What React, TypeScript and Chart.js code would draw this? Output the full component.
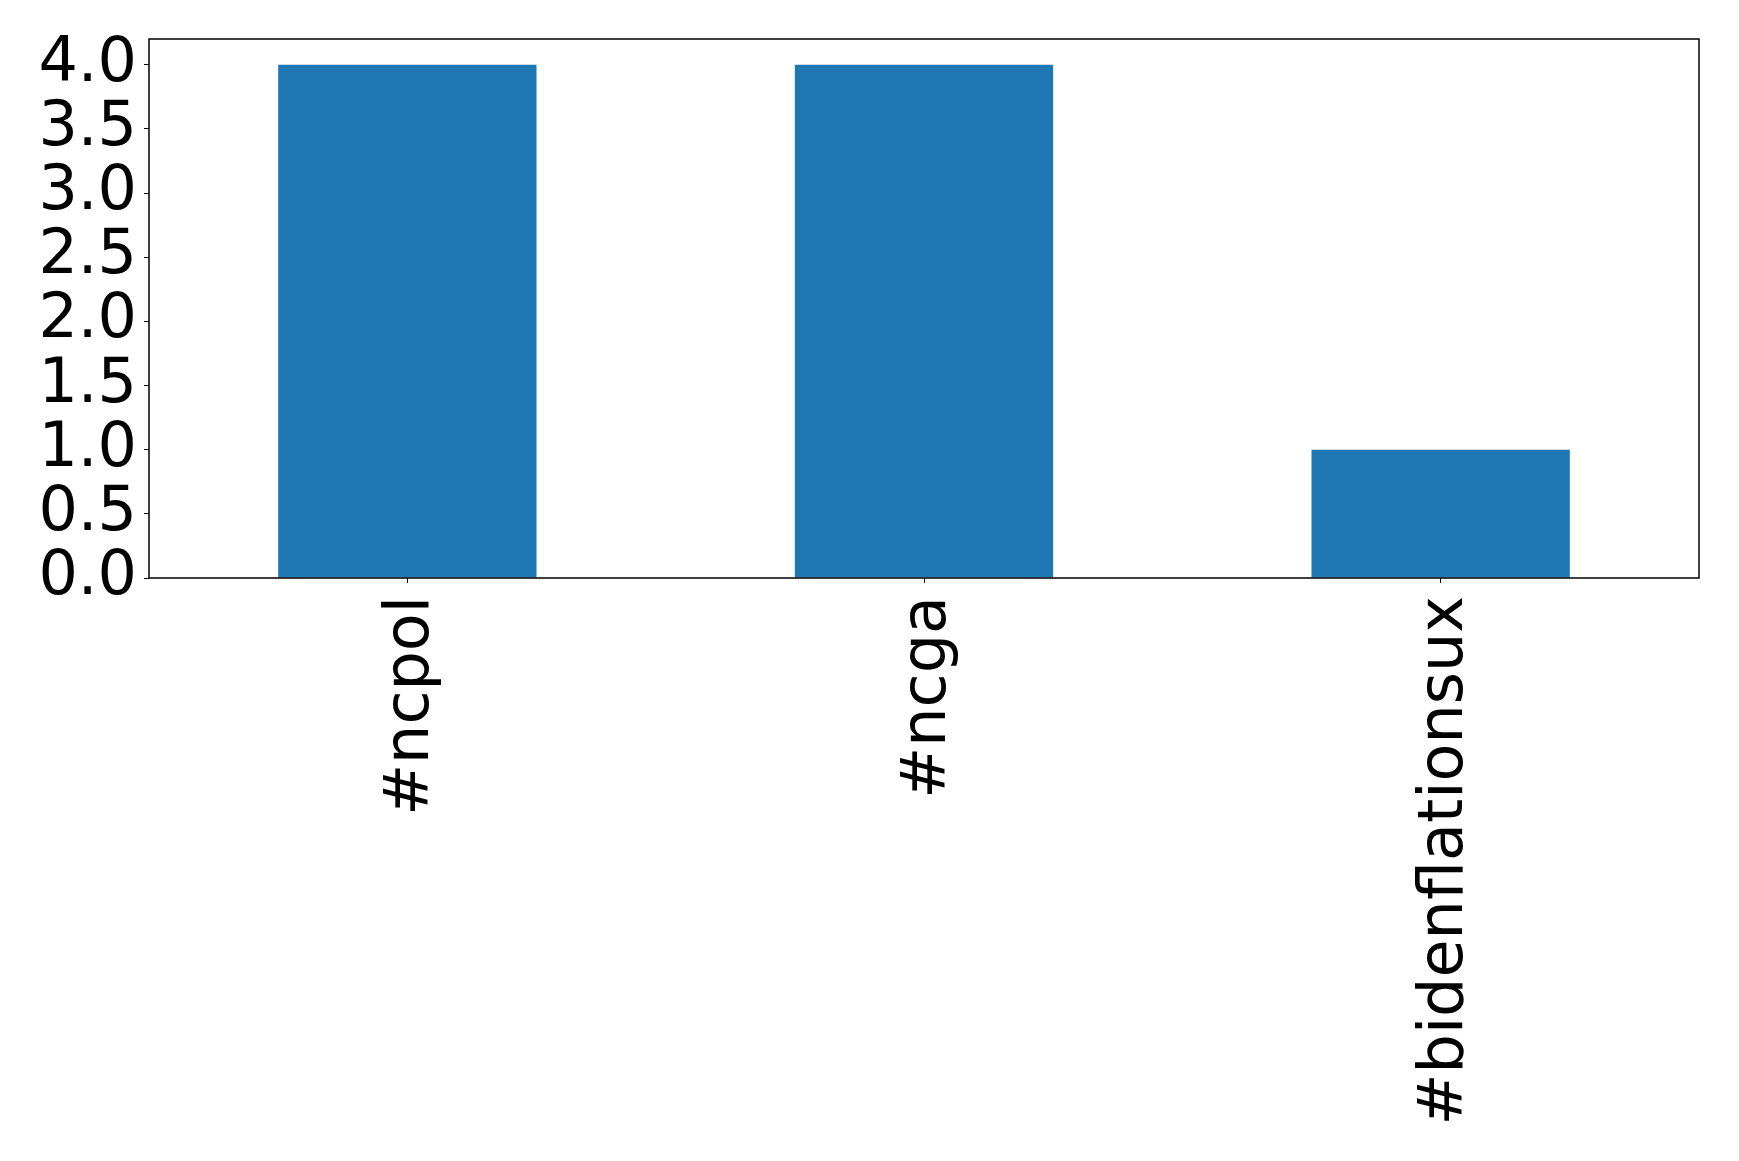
import React, { useEffect, useRef } from "react";
import { Chart, registerables } from "chart.js";

Chart.register(...registerables);

const categories = ["#ncpol", "#ncga", "#bidenflationsux"];
const counts = [4, 4, 1];
const yTickValues = [0, 0.5, 1, 1.5, 2, 2.5, 3, 3.5, 4];

const W = 1739;
const H = 1161;
const LEFT = 149;
const TOP = 39;
const RIGHT = 1699;
const BOTTOM = 578;
const FONT = { family: "'DejaVu Sans'", size: 62 };

const framePlugin = {
  id: "frame",
  afterDraw(chart: any) {
    const { ctx, chartArea } = chart;
    ctx.save();
    ctx.strokeStyle = "#000";
    ctx.lineWidth = 1.5;
    ctx.strokeRect(chartArea.left, chartArea.top, chartArea.right - chartArea.left, chartArea.bottom - chartArea.top);
    ctx.restore();
  },
};

export default function App() {
  const ref = useRef<HTMLCanvasElement | null>(null);
  useEffect(() => {
    if (!ref.current) return;
    const chart = new Chart(ref.current, {
      type: "bar",
      data: {
        labels: categories,
        datasets: [
          {
            data: counts,
            backgroundColor: "#1f77b4",
            barPercentage: 0.5,
            categoryPercentage: 1,
          },
        ],
      },
      plugins: [framePlugin],
      options: {
        animation: false,
        responsive: false,
        devicePixelRatio: 1,
        layout: { padding: { top: TOP, right: W - RIGHT, left: 0, bottom: 0 } },
        plugins: { legend: { display: false }, tooltip: { enabled: false } },
        scales: {
          x: {
            offset: true,
            grid: { display: true, drawOnChartArea: false, drawTicks: true, tickLength: 5, color: "#000", offset: false },
            border: { display: false },
            ticks: { font: FONT, color: "#000", minRotation: 90, maxRotation: 90, padding: 13, autoSkip: false, labelOffset: 5 },
            afterFit(scale: any) {
              scale.height = H - BOTTOM;
              scale.paddingLeft = 0;
              scale.paddingRight = 0;
            },
          },
          y: {
            min: 0,
            max: 4.2,
            grid: { display: true, drawOnChartArea: false, drawTicks: true, tickLength: 5, color: "#000" },
            border: { display: false },
            ticks: {
              font: FONT,
              color: "#000",
              padding: 7,
              autoSkip: false,
              callback: (v: any) => Number(v).toFixed(1),
            },
            afterBuildTicks(scale: any) {
              scale.ticks = yTickValues.map((v) => ({ value: v }));
            },
            afterFit(scale: any) {
              scale.width = LEFT;
              scale.paddingTop = 0;
              scale.paddingBottom = 0;
            },
          },
        },
      },
    });
    return () => chart.destroy();
  }, []);
  return (
    <canvas
      ref={ref}
      width={W}
      height={H}
      style={{ position: "fixed", left: 0, top: 0, width: W, height: H, background: "#fff" }}
    />
  );
}
